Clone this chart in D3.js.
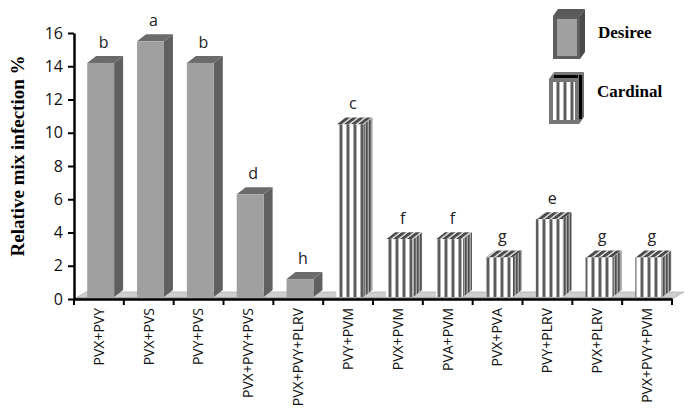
<!DOCTYPE html>
<html lang="en">
<head>
  <meta charset="utf-8">
  <title>Relative mix infection</title>
  <style>
    body { margin: 0; background: #fff; }
    svg { display: block; }
  </style>
</head>
<body>
  <div id="chart"></div>
  <script src="https://d3js.org/d3.v7.min.js"></script>
  <script>
const categories = ["PVX+PVY", "PVX+PVS", "PVY+PVS", "PVX+PVY+PVS", "PVX+PVY+PLRV",
                    "PVY+PVM", "PVX+PVM", "PVA+PVM", "PVX+PVA", "PVY+PLRV", "PVX+PLRV", "PVX+PVY+PVM"];
const values = [14.2, 15.5, 14.2, 6.3, 1.2, 10.5, 3.6, 3.6, 2.5, 4.8, 2.5, 2.5];
const letters = ["b", "a", "b", "d", "h", "c", "f", "f", "g", "e", "g", "g"];
const cultivar = ["Desiree", "Desiree", "Desiree", "Desiree", "Desiree",
                  "Cardinal", "Cardinal", "Cardinal", "Cardinal", "Cardinal", "Cardinal", "Cardinal"];
const yTicks = [0, 2, 4, 6, 8, 10, 12, 14, 16];

const W = 692, H = 418;
const plotL = 74, plotR = 672, plotT = 33, base = 299;
const dx = 9, dy = 7;

const svg = d3.select("#chart").append("svg")
    .attr("width", W).attr("height", H);

const x = d3.scaleBand().domain(categories).range([plotL, plotR]);
const y = d3.scaleLinear().domain([0, 16]).range([base, plotT]);

// stripe patterns for Cardinal
const defs = svg.append("defs");
const pf = defs.append("pattern").attr("id", "stripeFront")
    .attr("patternUnits", "userSpaceOnUse").attr("width", 7).attr("height", 10);
pf.append("rect").attr("width", 7).attr("height", 10).attr("fill", "#fff");
pf.append("rect").attr("x", 3.2).attr("width", 0.8).attr("height", 10).attr("fill", "#999");
pf.append("rect").attr("x", 4).attr("width", 2.2).attr("height", 10).attr("fill", "#5c5c5c");
pf.append("rect").attr("x", 6.2).attr("width", 0.8).attr("height", 10).attr("fill", "#aaa");

const ps = defs.append("pattern").attr("id", "stripeSide")
    .attr("patternUnits", "userSpaceOnUse").attr("width", 3).attr("height", 10);
ps.append("rect").attr("width", 3).attr("height", 10).attr("fill", "#a5a5a5");
ps.append("rect").attr("width", 1.6).attr("height", 10).attr("fill", "#4f4f4f");

const pt = defs.append("pattern").attr("id", "stripeTop")
    .attr("patternUnits", "userSpaceOnUse").attr("width", 7).attr("height", 10)
    .attr("patternTransform", "skewX(-52)");
pt.append("rect").attr("width", 7).attr("height", 10).attr("fill", "#4a4a4a");
pt.append("rect").attr("x", 3.5).attr("width", 2.5).attr("height", 10).attr("fill", "#d8d8d8");

// floor
svg.append("path")
    .attr("d", `M${plotL},${base} L${plotR},${base} L${plotR + 12},${base - 7} L${plotL + 12},${base - 7} Z`)
    .attr("fill", "#cfcfcf").attr("stroke", "#b0b0b0").attr("stroke-width", 0.8);
svg.append("line").attr("x1", plotL).attr("x2", plotR).attr("y1", base - 1).attr("y2", base - 1)
    .attr("stroke", "#9a9a9a").attr("stroke-width", 1.5);

// bars
const step = x.step();
const bars = svg.append("g").selectAll("g").data(categories).join("g");
bars.each(function(c, i) {
  const g = d3.select(this);
  const x0 = x(c) + step * 0.265, w = step * 0.54;
  const yt = y(values[i]), yb = base - 2;
  const striped = cultivar[i] === "Cardinal";
  // side
  g.append("path")
    .attr("d", `M${x0 + w},${yt} L${x0 + w + dx},${yt - dy} L${x0 + w + dx},${yb - dy} L${x0 + w},${yb} Z`)
    .attr("fill", striped ? "url(#stripeSide)" : "#606060");
  // top
  g.append("path")
    .attr("d", `M${x0},${yt} L${x0 + dx},${yt - dy} L${x0 + w + dx},${yt - dy} L${x0 + w},${yt} Z`)
    .attr("fill", striped ? "url(#stripeTop)" : "#6b6b6b");
  // front
  g.append("rect").attr("x", x0).attr("y", yt).attr("width", w).attr("height", yb - yt)
    .attr("fill", striped ? "url(#stripeFront)" : "#a0a0a0");
  // letter
  g.append("text").attr("x", x0 + w / 2 + 3).attr("y", yt - 15)
    .attr("text-anchor", "middle")
    .style("font", "16px 'Open Sans', sans-serif").style("fill", "#222")
    .text(letters[i]);
});

// y axis
const yAxis = svg.append("g").attr("transform", `translate(${plotL},0)`)
    .call(d3.axisLeft(y).tickValues(yTicks).tickSize(6).tickSizeOuter(0).tickPadding(5));
yAxis.select(".domain").attr("stroke", "#000").attr("stroke-width", 2.5);
yAxis.selectAll(".tick line").attr("stroke", "#000").attr("stroke-width", 2);
yAxis.selectAll(".tick text").style("font", "16px 'Open Sans', sans-serif").style("fill", "#111");

// x axis
const xAxis = svg.append("g").attr("transform", `translate(0,${base})`)
    .call(d3.axisBottom(x).tickSize(0).tickSizeOuter(0));
xAxis.select(".domain").attr("stroke", "#000").attr("stroke-width", 2.5);
xAxis.selectAll(".tick text")
    .attr("transform", "rotate(-90)")
    .attr("text-anchor", "end").attr("x", -9).attr("y", 0).attr("dy", "0.35em")
    .style("font", "14px 'Open Sans', sans-serif").style("fill", "#111");
const bounds = categories.map(c => x(c)).concat([plotR]);
xAxis.selectAll(".bt").data(bounds).join("line").attr("class", "bt")
    .attr("x1", d => d).attr("x2", d => d).attr("y1", 0).attr("y2", 6)
    .attr("stroke", "#000").attr("stroke-width", 2);

// y title
svg.append("text")
    .attr("transform", `translate(24,156) rotate(-90)`)
    .attr("text-anchor", "middle")
    .style("font", "bold 19px 'Liberation Serif', 'Times New Roman', serif")
    .text("Relative mix infection %");

// legend
const lg = svg.append("g");
// Desiree box
lg.append("path").attr("d", "M553,16 L558,9 L585,9 L580,16 Z").attr("fill", "#5a5a5a");
lg.append("path").attr("d", "M580,16 L585,9 L585,52 L580,59 Z").attr("fill", "#4a4a4a");
lg.append("rect").attr("x", 553).attr("y", 16).attr("width", 27).attr("height", 43).attr("fill", "#5e5e5e");
lg.append("rect").attr("x", 557).attr("y", 19).attr("width", 20).attr("height", 37).attr("fill", "#a0a0a0");
// Cardinal box
lg.append("path").attr("d", "M549,79 L554,72 L584,72 L579,79 Z").attr("fill", "#777");
lg.append("path").attr("d", "M579,79 L584,72 L584,117 L579,124 Z").attr("fill", "#6a6a6a");
lg.append("rect").attr("x", 549).attr("y", 79).attr("width", 30).attr("height", 45).attr("fill", "#777");
lg.append("rect").attr("x", 553).attr("y", 82).attr("width", 22).attr("height", 38).attr("fill", "url(#stripeFront)");
lg.append("rect").attr("x", 579).attr("y", 75).attr("width", 3).attr("height", 44).attr("fill", "#000");
lg.append("rect").attr("x", 554).attr("y", 75).attr("width", 24).attr("height", 3).attr("fill", "#000");
lg.append("text").attr("x", 598).attr("y", 38)
    .style("font", "bold 17px 'Liberation Serif', 'Times New Roman', serif").text("Desiree");
lg.append("text").attr("x", 597).attr("y", 97)
    .style("font", "bold 17px 'Liberation Serif', 'Times New Roman', serif").text("Cardinal");
  </script>
</body>
</html>
